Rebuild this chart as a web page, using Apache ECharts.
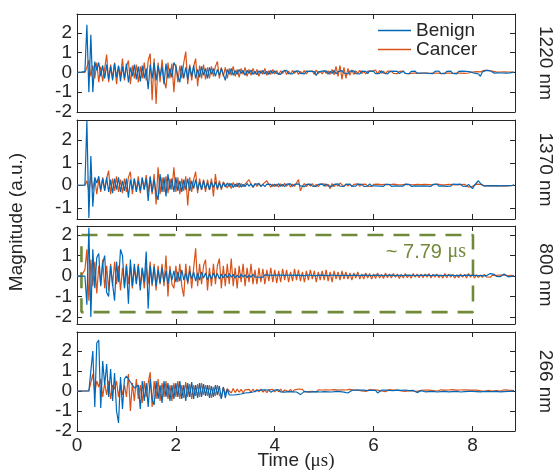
<!DOCTYPE html>
<html>
<head>
<meta charset="utf-8">
<script src="https://cdn.jsdelivr.net/npm/echarts@6/dist/echarts.min.js"></script>
<style>
  html, body { margin: 0; background: #fff; }
  #main { width: 558px; height: 471px; }
</style>
</head>
<body>
<div id="main"></div>
<script>
// ── Данные: сигналы по длинам волн, шаг дискретизации DT (мкс) ─────────────────
var DT = 0.04;
var TIME_MIN = 0;
var TIME_MAX = 8.86;
var TIME_TICKS = [0, 2, 4, 6, 8];

var PANEL_NAMES = ['1220 nm', '1370 nm', '800 nm', '266 nm'];
var Y_MIN = [-2, -1.5, -2.34, -2];
var Y_MAX = [2.95, 2.9, 2.44, 2.95];
var Y_TICKS = [[-2, -1, 0, 1, 2], [-1, 0, 1, 2], [-2, -1, 0, 1, 2], [-2, -1, 0, 1, 2]];

// 1220 nm
var BENIGN_1220 = [
  0, 0, 0, 0, 0.05, 2.4, -1.0, 1.9, -1.0, 0.55, 0.1, 0.5, -0.2, 0.35, -0.3, 0.4, -0.35, 0.3, -0.4, 0.45, -0.25, 0.35, -0.45, 0.3, -0.3,
  0.45, -0.5, 0.25, -0.2, 0.4, -0.35, 0.3, -0.45, 0.35, -0.3, 0.2, -0.85, 0.4, -0.3, 0.5, -0.4, 0.35, -0.2, 0.3, -0.6, 0.45, -0.3, 0.2, -0.25, 0.5,
  0.3, -0.2, -0.5, 0.35, -0.3, 0.25, -0.35, 0.3, -0.2, 0.35, -0.3, 0.15, -0.25, 0.3, -0.15, 0.2, -0.3, 0.25, -0.1, 0.2, -0.2, 0.15, -0.15, 0.2, -0.1,
  -0.4, 0.15, -0.1, 0.2, -0.15, 0.1, -0.1, 0.15, -0.05, 0.1, -0.15, 0.1, -0.05, 0.12, -0.1, 0.05, -0.12, 0.08, -0.05, 0.1, -0.08, 0.05, -0.1, 0.1, -0.05,
  0.08, -0.05, 0.05, -0.1, 0.06, -0.04, 0.1, -0.06, 0.03, -0.08, 0.05, -0.03, 0.08, -0.05, 0.02, -0.07, 0.06, -0.04, 0.05, -0.03, 0.04, -0.15, 0.03, -0.05, 0.06,
  -0.04, 0.08, -0.09, 0.06, -0.05, 0.1, -0.07, 0.04, -0.06, 0.09, -0.03, 0.05, -0.08, 0.06, -0.03, 0.08, -0.06, 0.03, -0.08, 0.06, -0.03, 0.05, -0.06, 0.08, -0.02,
  0.05, -0.06, 0.03, -0.05, 0.08, -0.03, 0.05, -0.08, 0.03, -0.05, 0.06, -0.03, 0.05, -0.06, 0.02, 0.06, -0.05, 0.03, -0.06, 0.05, -0.03, 0.06, -0.05, 0.03, -0.03,
  0.05, -0.03, 0.06, -0.05, 0.03, -0.06, 0.05, -0.03, 0.07, -0.05, 0.03, -0.06, 0.05, -0.03, 0.06, -0.05, 0.03, -0.07, 0.05, -0.03, 0.06, -0.03, 0.05, -0.05, 0.03,
  0.02, -0.04, 0.03, -0.08, -0.2, 0.02, 0.05, 0.1, 0.2, 0.08, 0.02, -0.04, 0.03, -0.02, 0.04, -0.03, 0.02, -0.04, 0.03, -0.02, 0.03, 0.01
];
var CANCER_1220 = [
  0, 0, 0, 0, 0, 0.25, 0.6, -0.2, 0.35, -0.3, 0.5, -0.5, 0.3, -0.45, 0.2, 0.9, -0.5, 0.4, -0.3, 0.5, -0.6, 0.3, -0.2, 0.7, -0.4,
  0.3, 0.6, -0.6, 0.35, -0.3, 0.4, -0.5, 0.3, -0.3, 0.5, -0.4, 0.6, 0.95, -1.4, 0.7, -1.6, 0.5, -0.5, 0.65, -0.4, -0.8, 0.5, -0.3, 0.45, -1.0,
  0.4, -0.5, 0.35, -0.3, 0.5, 1.05, -0.6, 0.4, -0.4, 0.3, 0.7, -0.7, 0.35, -0.3, 0.4, -0.35, 0.25, -0.3, 0.3, -0.2, 0.3, 0.55, -0.3, 0.25, -0.2,
  0.25, -0.3, 0.2, -0.15, 0.3, -0.2, 0.15, -0.25, 0.2, -0.1, 0.25, -0.2, 0.15, -0.15, 0.2, -0.1, 0.15, -0.2, 0.1, -0.1, 0.2, -0.15, 0.1, -0.1, 0.15,
  -0.08, 0.1, -0.12, 0.08, -0.05, 0.12, -0.1, 0.06, -0.08, 0.1, -0.05, 0.08, -0.1, 0.05, -0.06, 0.1, -0.08, 0.05, -0.04, 0.08, -0.1, 0.12, -0.06, 0.05, -0.08,
  0.1, -0.05, 0.08, -0.1, 0.15, -0.12, 0.3, -0.2, 0.35, -0.35, 0.25, -0.3, 0.2, -0.15, 0.12, -0.1, 0.08, -0.05, 0.1, -0.06, 0.05, -0.08, 0.06, -0.04, 0.05,
  0.05, 0.12, -0.08, 0.1, -0.05, 0.06, -0.07, 0.06, -0.04, 0.07, -0.05, 0.04, -0.06, 0.05, -0.03, 0.06, -0.05, 0.04, -0.06, 0.03, -0.04, 0.05, -0.03, 0.04, -0.05,
  0.04, -0.03, 0.06, -0.05, 0.03, -0.04, 0.05, -0.03, 0.04, -0.06, 0.03, -0.04, 0.05, -0.03, 0.04, -0.05, 0.03, -0.03, 0.05, -0.04, 0.03, -0.05, 0.04, -0.03, 0.04,
  0.02, -0.03, 0.04, -0.02, 0.03, 0.08, 0.1, 0.06, 0.1, 0.04, 0.06, -0.02, 0.03, -0.03, 0.02, -0.02, 0.03, -0.02, 0.02, -0.03, 0.02, 0
];

// 1370 nm
var BENIGN_1370 = [
  0, 0, 0, 0, 0, 2.85, -1.45, 1.3, -0.95, 0.35, 0.1, 0.4, -0.2, 0.3, -0.25, 0.35, -0.3, 0.25, -0.35, 0.3, -0.2, 0.35, -0.3, 0.2, -0.25,
  0.3, -0.55, 0.25, -0.2, 0.3, -0.3, 0.2, -0.25, 0.35, -0.2, 0.3, -0.7, 0.4, -0.3, 0.25, -0.35, -0.65, 0.5, -0.3, 0.35, -0.5, 0.5, -0.2, 0.3, -0.3,
  0.35, -0.25, 0.2, -0.3, 0.25, -0.2, 0.3, -0.25, 0.2, -0.15, 0.25, -0.2, 0.15, -0.2, 0.2, -0.15, 0.1, -0.2, 0.15, -0.1, 0.15, -0.15, 0.1, -0.12, 0.1,
  -0.08, 0.1, -0.05, 0.08, -0.1, 0.05, -0.06, 0.1, -0.08, 0.04, -0.06, 0.08, -0.04, 0.06, -0.08, 0.05, -0.03, 0.06, -0.05, 0.04, -0.06, 0.05, -0.03, 0.04, -0.05,
  0.05, -0.04, 0.07, -0.05, 0.04, -0.06, 0.05, -0.03, 0.06, -0.05, 0.04, -0.04, 0.06, -0.03, 0.05, -0.06, 0.04, -0.03, 0.05, -0.04, 0.03, -0.05, 0.04, -0.03, 0.05,
  -0.04, 0.06, -0.03, 0.05, -0.05, 0.04, -0.03, 0.06, -0.04, 0.03, -0.05, 0.04, -0.03, 0.05, -0.04, 0.03, -0.04, 0.05, -0.03, 0.04, -0.05, 0.03, -0.04, 0.06, -0.03,
  0.04, -0.03, 0.05, -0.04, 0.03, -0.05, 0.04, -0.03, 0.04, -0.05, 0.03, -0.03, 0.05, -0.04, 0.03, -0.04, 0.05, -0.03, 0.04, -0.05, 0.03, -0.03, 0.04, -0.04, 0.03,
  -0.03, 0.04, -0.04, 0.03, -0.05, 0.04, -0.03, 0.05, -0.04, 0.03, -0.03, 0.04, -0.05, 0.03, -0.04, 0.05, -0.03, 0.04, -0.03, 0.05, -0.04, 0.03, -0.05, 0.04, -0.03,
  -0.15, 0.0, 0.1, 0.2, 0.08, 0.02, -0.04, 0.03, -0.02, 0.04, -0.03, 0.02, -0.02, 0.04, -0.03, 0.02, -0.03, 0.03, -0.02, 0.02, -0.01, 0.02
];
var CANCER_1370 = [
  0, 0, 0, 0, 0, 0.2, -0.3, 0.4, -0.2, 0.3, -0.4, 0.25, -0.3, 0.35, -0.2, 0.3, 0.65, -0.4, 0.3, -0.25, 0.4, -0.3, 0.25, -0.35, 0.3,
  -0.3, 0.35, 0.6, -0.4, 0.3, -0.25, 0.4, -0.35, 0.3, -0.2, 0.45, -0.3, 0.35, -0.4, 0.5, -0.85, 0.8, -0.4, 0.35, -0.3, 0.4, -0.35, 0.3, -0.2, 0.8,
  -0.3, 0.35, -0.4, 0.3, -0.25, 0.4, -0.9, 0.35, -0.3, 0.25, 0.6, -0.35, 0.3, -0.2, 0.25, -0.3, 0.25, -0.2, 0.3, -0.5, 0.5, -0.2, 0.2, -0.2, 0.15,
  0.15, -0.12, 0.1, -0.15, 0.12, -0.08, 0.1, -0.1, 0.08, -0.06, 0.05, 0.15, 0.25, 0.05, -0.1, 0.08, -0.05, 0.1, -0.06, 0.05, 0.1, 0.2, 0.05, -0.08, 0.05,
  -0.06, 0.05, -0.08, 0.06, -0.05, 0.08, -0.04, 0.06, -0.08, 0.05, -0.05, 0.1, 0.25, -0.25, -0.05, 0.08, -0.06, 0.05, -0.04, 0.07, -0.05, 0.04, -0.06, 0.05, -0.03,
  0.06, -0.05, 0.04, -0.15, 0.08, -0.06, 0.05, -0.04, 0.1, 0.05, -0.05, 0.06, -0.04, 0.05, -0.06, 0.04, -0.03, 0.06, -0.05, 0.04, -0.02, 0.05, -0.04, 0.03, -0.05,
  0.04, -0.03, 0.05, -0.02, 0.03, -0.05, 0.04, -0.03, 0.02, -0.04, 0.05, -0.02, 0.03, -0.04, 0.02, -0.03, 0.04, -0.02, 0.03, -0.05, 0.02, -0.03, 0.04, -0.02, 0.03,
  -0.03, 0.04, -0.02, 0.03, -0.04, 0.02, -0.03, 0.05, -0.02, 0.03, -0.04, 0.02, -0.03, 0.04, -0.02, 0.03, -0.03, 0.02, -0.04, 0.03, -0.02, 0.04, -0.03, -0.08, -0.1,
  -0.05, 0.02, 0.05, 0.08, 0.04, 0.06, -0.02, 0.04, -0.03, 0.02, -0.02, 0.04, -0.03, 0.02, -0.03, 0.03, -0.02, 0.02, -0.03, 0.02, -0.02, 0.01
];

// 800 nm
var BENIGN_800 = [
  0, 0, 0, 0, 0, -1.4, 2.35, -2.0, 1.3, -0.6, 0.9, 1.1, -0.5, 0.6, 1.0, -0.8, -1.0, 0.5, -0.4, -1.2, 0.7, -0.3, 1.3, 1.0, -0.6,
  0.5, -1.35, 0.8, -0.5, 0.6, -0.4, 0.5, -0.7, 0.4, -0.3, 1.2, -1.6, 0.5, -0.4, 0.45, -0.5, 0.3, -0.35, 0.4, -0.3, 0.25, -0.4, 0.3, -0.2, 0.25,
  -0.3, 0.2, -0.25, 0.3, -0.2, 0.15, -0.3, 0.25, -0.15, 0.2, -0.25, 0.15, -0.2, 0.2, -0.1, 0.15, -0.2, 0.1, -0.15, 0.15, -0.1, 0.12, -0.15, 0.1, -0.1,
  0.1, -0.08, 0.12, -0.06, 0.08, -0.1, 0.05, -0.08, 0.1, -0.05, 0.06, -0.08, 0.04, -0.06, 0.08, -0.04, 0.05, -0.06, 0.03, -0.05, 0.06, -0.03, 0.04, -0.05, 0.03,
  -0.04, 0.05, -0.03, 0.04, -0.05, 0.03, -0.02, 0.05, -0.04, 0.03, -0.03, 0.04, -0.02, 0.03, -0.04, 0.02, -0.03, 0.05, -0.02, 0.03, -0.04, 0.02, -0.03, 0.04, -0.02,
  0.03, -0.04, 0.02, -0.03, 0.05, -0.02, 0.03, -0.04, 0.02, -0.02, 0.04, -0.03, 0.02, -0.04, 0.03, -0.02, 0.04, -0.03, 0.02, -0.03, 0.04, -0.02, 0.03, -0.04, 0.02,
  -0.03, 0.04, -0.02, 0.03, -0.03, 0.02, -0.04, 0.03, -0.02, 0.04, -0.03, 0.02, -0.02, 0.03, -0.04, 0.02, -0.03, 0.04, -0.02, 0.03, -0.03, 0.02, -0.04, 0.03, -0.02,
  0.03, -0.02, 0.04, -0.03, 0.02, -0.03, 0.04, -0.02, 0.03, -0.04, 0.02, -0.03, 0.03, -0.02, 0.04, -0.03, 0.02, -0.02, 0.03, -0.04, 0.02, -0.03, 0.04, -0.02, 0.03,
  -0.02, 0.03, -0.04, 0.02, -0.03, 0.02, -0.04, 0.01, 0.06, 0.12, 0.15, 0.08, -0.02, -0.06, -0.03, 0.04, 0.1, 0.06, -0.04, 0.03, -0.02, 0.01
];
var CANCER_800 = [
  0, 0, 0, 0, 0.3, 1.3, -1.2, 0.8, -0.5, 0.7, -0.85, 0.5, -0.4, 0.8, -0.6, 0.5, -0.7, 0.6, -0.5, 0.7, -0.4, 0.5, -0.7, 0.4, -0.5,
  0.6, -0.4, 0.5, -0.6, 0.4, -0.3, 0.6, -0.5, 0.4, -0.6, 0.5, -0.4, 0.7, -0.5, 0.6, -0.7, 0.5, -0.4, 0.6, -0.5, 1.0, -1.0, 0.5, -0.4, -0.6,
  0.5, -0.3, 0.6, -0.5, -1.0, 0.6, -0.4, 0.5, -0.6, 0.4, 1.35, -0.5, 0.6, -0.4, 0.5, 0.8, -0.7, 0.4, -0.5, 0.6, -0.4, 0.5, 0.85, -0.6, 0.5,
  -0.5, 0.6, -0.4, 0.85, -0.5, 0.4, -0.6, 0.5, -0.3, 0.6, -0.5, 0.4, -0.3, 0.6, -0.4, 0.3, -0.4, 0.4, -0.3, 0.35, -0.4, 0.3, -0.25, 0.4, -0.3,
  0.3, -0.35, 0.25, -0.3, 0.35, -0.2, 0.3, -0.3, 0.2, -0.25, 0.35, -0.2, 0.3, -0.25, 0.2, -0.3, 0.25, -0.2, 0.3, -0.15, 0.25, -0.3, 0.2, -0.2, 0.25,
  -0.2, 0.3, -0.25, 0.2, -0.3, 0.25, -0.15, 0.2, -0.2, 0.25, -0.15, 0.2, -0.15, 0.15, -0.2, 0.15, -0.1, 0.2, -0.15, 0.1, -0.15, 0.15, -0.1, 0.12, -0.15,
  0.1, -0.12, 0.15, -0.1, 0.08, -0.12, 0.15, -0.08, 0.1, -0.1, 0.12, -0.06, 0.1, -0.12, 0.08, -0.1, 0.12, -0.08, 0.06, -0.1, 0.12, -0.06, 0.1, -0.08, 0.1,
  -0.08, 0.1, -0.06, 0.12, -0.1, 0.08, -0.06, 0.1, -0.08, 0.06, -0.1, 0.12, -0.08, 0.1, -0.06, 0.08, -0.1, 0.06, -0.08, 0.1, -0.06, 0.08, -0.1, 0.12, -0.06,
  0.08, -0.1, 0.06, -0.08, 0.05, -0.06, 0.08, -0.04, 0.05, -0.06, 0.04, -0.05, 0.03, -0.04, 0.05, -0.03, 0.04, -0.03, 0.02, -0.04, 0.03, 0.01
];

// 266 nm
var BENIGN_266 = [
  0, 0, 0, 0, 0, 0, 0, 0, 2.0, -0.8, 2.4, 2.55, -0.85, 1.5, 0.3, 1.35, -0.3, 1.1, -0.5, 0.9, -1.0, -1.6, 0.7, -0.9, 0.6,
  0.75, 0.6, 0.45, 0.3, 0.15, 0.05, 0.3, -0.9, 0.5, -0.5, 0.4, -0.8, 0.6, -0.4, -0.7, 0.5, -0.4, 0.3, -0.6, 0.5, -0.3, 0.4, -0.5, 0.3, -0.4,
  0.4, -0.3, 0.5, -0.4, 0.3, -0.5, 0.4, -0.3, 0.45, -0.4, 0.3, -0.35, 0.4, -0.3, 0.35, -0.25, 0.3, -0.35, 0.25, -0.3, 0.3, -0.2, 0.25, -0.4, 0.2,
  -0.35, 0.1, -0.2, -0.1, -0.2, -0.12, -0.18, -0.1, -0.15, -0.2, -0.1, -0.15, -0.08, -0.12, -0.05, -0.1, 0.02, -0.06, 0.04, -0.05, 0.06, -0.04, 0.05, -0.06, 0.04,
  0.05, -0.04, 0.06, -0.05, 0.03, -0.06, 0.04, -0.03, 0.05, -0.04, 0.02, -0.05, -0.1, -0.18, -0.12, -0.02, 0.04, -0.06, 0.03, -0.04, 0.05, -0.03, 0.04, -0.05, 0.03,
  -0.03, 0.05, -0.04, 0.03, -0.05, 0.04, -0.02, 0.05, -0.03, 0.04, -0.06, 0.02, -0.1, -0.04, 0.03, -0.04, 0.05, -0.02, 0.04, -0.03, 0.05, -0.04, 0.02, -0.03, 0.04,
  -0.02, 0.03, -0.1, -0.04, 0.04, -0.03, 0.05, -0.02, 0.03, -0.04, 0.02, -0.03, 0.04, -0.02, 0.03, -0.04, 0.05, -0.03, 0.02, -0.04, 0.03, -0.02, -0.08, -0.03, 0.02,
  0.03, -0.04, 0.02, -0.03, 0.04, -0.02, 0.03, -0.05, 0.02, -0.03, 0.04, -0.02, 0.03, -0.04, 0.02, -0.03, 0.04, -0.02, 0.03, -0.05, 0.02, -0.03, 0.04, -0.02, 0.03,
  -0.02, 0.04, -0.03, 0.02, -0.04, 0.03, -0.02, 0.04, -0.03, 0.02, -0.03, 0.04, -0.02, 0.03, -0.04, 0.02, -0.03, 0.04, -0.02, 0.03, -0.02, 0.02
];
var CANCER_266 = [
  0, 0, 0, 0, 0, 0, 0, 0.1, 0.85, -0.1, 0.5, 0.2, 0.6, -0.3, 0.4, -0.2, 0.5, -0.4, 0.3, 0.1, 0.5, -0.3, 0.4, -0.2, 0.3,
  -0.3, 0.85, -1.0, 0.4, -0.5, 0.6, -0.4, 0.3, -0.6, 0.5, -0.3, 0.4, 0.95, -0.8, 0.5, -0.4, 0.6, -0.5, 0.4, -0.3, 0.5, -0.4, 0.3, -0.5, 0.4,
  -0.3, 0.5, -0.4, 0.3, -0.35, 0.45, -0.3, 0.35, -0.4, 0.3, -0.25, 0.35, -0.3, 0.4, -0.2, 0.3, -0.25, 0.3, -0.35, 0.2, -0.25, 0.3, -0.2, -0.35, 0.2,
  -0.15, 0.1, 0.2, -0.1, 0.12, -0.08, 0.1, -0.06, 0.08, -0.1, 0.06, -0.04, 0.08, -0.06, 0.1, -0.05, 0.08, -0.04, 0.1, -0.06, 0.05, -0.08, 0.06, -0.04, 0.08,
  -0.05, 0.08, -0.04, 0.1, -0.06, 0.05, 0.12, -0.03, 0.08, -0.05, 0.06, -0.04, 0.1, 0.02, 0.08, -0.04, 0.05, -0.03, 0.06, -0.02, 0.04, -0.05, 0.06, -0.03, 0.05,
  0.03, 0.06, -0.02, 0.05, 0.02, 0.07, -0.03, 0.04, 0.01, 0.06, -0.02, 0.05, 0.03, 0.08, 0.0, 0.05, -0.02, 0.04, 0.06, 0.01, 0.05, -0.02, 0.04, 0.07, 0.02,
  0.05, -0.01, 0.04, 0.06, 0.0, 0.05, -0.03, 0.04, 0.07, 0.02, 0.05, -0.01, 0.04, 0.06, 0.01, 0.03, -0.02, 0.05, 0.02, 0.06, 0.0, 0.04, -0.02, 0.05, 0.03,
  0.01, 0.05, -0.02, 0.04, 0.06, 0.02, 0.05, -0.01, 0.03, 0.06, 0.0, 0.04, -0.02, 0.05, 0.03, 0.07, 0.01, 0.04, -0.02, 0.05, 0.02, 0.06, 0.0, 0.04, 0.02,
  0.05, -0.01, 0.04, 0.06, 0.01, 0.04, -0.02, 0.05, 0.03, 0.06, 0.0, 0.04, 0.02, 0.05, -0.01, 0.04, 0.06, 0.02, 0.04, 0.0, 0.03, 0.02
];

// пунктирное окно на панели 800 nm
var WINDOW_800_TIME = [0.09, 8.01];
var WINDOW_800_LEVEL = [2, -1.76];
var WINDOW_800_LABEL = '~ 7.79 ';

var BENIGN = [BENIGN_1220, BENIGN_1370, BENIGN_800, BENIGN_266];
var CANCER = [CANCER_1220, CANCER_1370, CANCER_800, CANCER_266];

// ── Оформление ──────────────────────────────────────────────────────────────
var BLUE = '#0068b8';
var ORANGE = '#D95319';
var OLIVE = '#718a3a';
var INK = '#262626';
var FONT = 'Liberation Sans';
var SERIF = 'Liberation Serif';

var GRID_LEFT = 77;
var GRID_RIGHT = 43;
var GRID_TOP = [14, 120, 226, 332];
var GRID_HEIGHT = [98, 99, 98, 99];

function _toPairs(values) {
  return values.map(function (v, i) {
    return [Math.round(i * DT * 100) / 100, v];
  });
}

function _xAxis(i, pos) {
  var bottom = pos === 'bottom';
  return {
    type: 'value', gridIndex: i, position: pos,
    min: TIME_MIN, max: TIME_MAX,
    axisLine: { show: true, onZero: false, lineStyle: { color: INK, width: 1 } },
    axisTick: { show: true, inside: true, length: 5, customValues: TIME_TICKS, lineStyle: { color: INK } },
    axisLabel: {
      show: bottom && i === 3, customValues: TIME_TICKS, margin: 5,
      fontSize: 19, fontFamily: FONT, color: INK
    },
    splitLine: { show: false }
  };
}

function _yAxis(i, pos) {
  var left = pos === 'left';
  return {
    type: 'value', gridIndex: i, position: pos,
    min: Y_MIN[i], max: Y_MAX[i],
    axisLine: { show: true, onZero: false, lineStyle: { color: INK, width: 1 } },
    axisTick: { show: true, inside: true, length: 5, customValues: Y_TICKS[i], lineStyle: { color: INK } },
    axisLabel: {
      show: left, customValues: Y_TICKS[i], margin: 5,
      fontSize: 19, fontFamily: FONT, color: INK
    },
    splitLine: { show: false }
  };
}

var grids = [], xAxes = [], yAxes = [], series = [], graphics = [];

PANEL_NAMES.forEach(function (name, i) {
  grids.push({ left: GRID_LEFT, right: GRID_RIGHT, top: GRID_TOP[i], height: GRID_HEIGHT[i] });
  xAxes.push(_xAxis(i, 'bottom'), _xAxis(i, 'top'));
  yAxes.push(_yAxis(i, 'left'), _yAxis(i, 'right'));

  series.push({
    name: 'Cancer', type: 'line', xAxisIndex: 2 * i, yAxisIndex: 2 * i,
    data: _toPairs(CANCER[i]), symbol: 'none', z: 3,
    lineStyle: { color: ORANGE, width: 1.2 }, itemStyle: { color: ORANGE }
  });
  series.push({
    name: 'Benign', type: 'line', xAxisIndex: 2 * i, yAxisIndex: 2 * i,
    data: _toPairs(BENIGN[i]), symbol: 'none', z: 4,
    lineStyle: { color: BLUE, width: 1.2 }, itemStyle: { color: BLUE }
  });

  graphics.push({
    type: 'text', x: 545, y: GRID_TOP[i] + GRID_HEIGHT[i] / 2, rotation: -Math.PI / 2,
    style: { text: name, fontSize: 19, fontFamily: FONT, fill: INK, align: 'center', verticalAlign: 'middle' }
  });
});

// окно ~7.79 мкс
var t0 = WINDOW_800_TIME[0], t1 = WINDOW_800_TIME[1];
var hi = WINDOW_800_LEVEL[0], lo = WINDOW_800_LEVEL[1];
series.push({
  name: 'window', type: 'line', xAxisIndex: 4, yAxisIndex: 4,
  data: [[t0, hi], [t1, hi], [t1, lo], [t0, lo], [t0, hi]],
  symbol: 'none', z: 2, silent: true,
  lineStyle: { color: OLIVE, width: 2.6, type: [16, 10] }
});

graphics.push({
  type: 'text', x: 466, y: 252,
  style: {
    text: '{a|' + WINDOW_800_LABEL + '}{b|μs}', align: 'right', verticalAlign: 'middle',
    rich: {
      a: { fontSize: 20, fontFamily: FONT, fill: OLIVE, color: OLIVE },
      b: { fontSize: 20, fontFamily: SERIF, fill: OLIVE, color: OLIVE }
    }
  }
});

graphics.push({
  type: 'text', x: 17, y: 222, rotation: Math.PI / 2,
  style: { text: 'Magnitude (a.u.)', fontSize: 19, fontFamily: FONT, fill: INK, align: 'center', verticalAlign: 'middle' }
});

graphics.push({
  type: 'text', x: 296, y: 461,
  style: {
    text: '{a|Time (}{b|μs)}', align: 'center', verticalAlign: 'middle',
    rich: {
      a: { fontSize: 19, fontFamily: FONT, fill: INK, color: INK },
      b: { fontSize: 19, fontFamily: SERIF, fill: INK, color: INK }
    }
  }
});

var chart = echarts.init(document.getElementById('main'));
chart.setOption({
  animation: false,
  backgroundColor: '#fff',
  legend: {
    data: ['Benign', 'Cancer'], orient: 'vertical',
    left: 378, top: 21, padding: 0,
    icon: 'rect', itemWidth: 33, itemHeight: 1.6, itemGap: 0,
    textStyle: { fontSize: 19, fontFamily: FONT, color: INK, lineHeight: 19 }
  },
  grid: grids,
  xAxis: xAxes,
  yAxis: yAxes,
  series: series,
  graphic: graphics
});
</script>
</body>
</html>
